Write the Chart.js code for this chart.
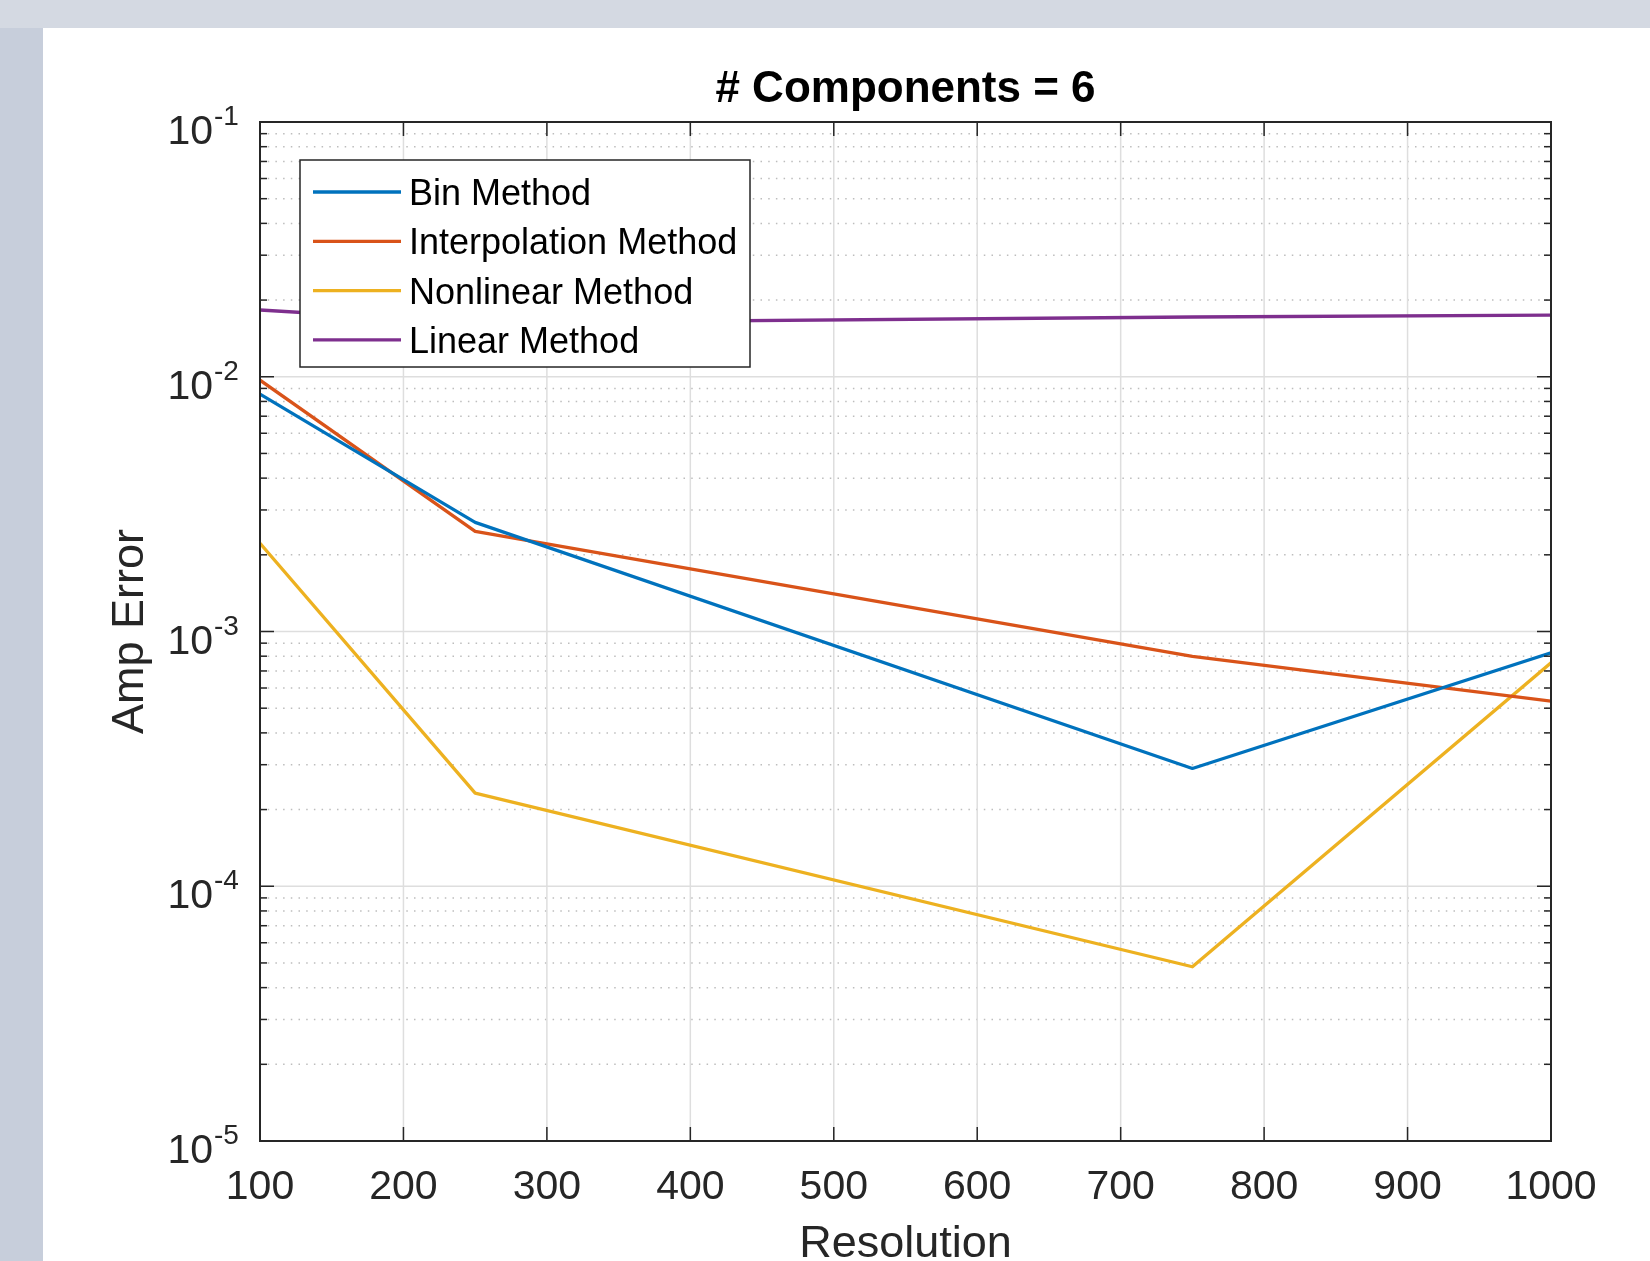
<!DOCTYPE html>
<html>
<head>
<meta charset="utf-8">
<script src="https://cdn.jsdelivr.net/npm/chart.js@4.4.1/dist/chart.umd.min.js"></script>
<style>
  html, body { margin: 0; padding: 0; }
  body { width: 1650px; height: 1261px; background: #d4d9e2; overflow: hidden; position: relative; }
  #strip { position: absolute; left: 0; top: 28px; width: 43px; height: 1233px; background: #c7cedb; }
  #panel { position: absolute; left: 43px; top: 28px; width: 1607px; height: 1233px; background: #fff; }
  canvas { display: block; }
</style>
</head>
<body>
<div id="strip"></div>
<div id="panel"><canvas id="chart" width="1607" height="1233"></canvas></div>
<script>
  // valeurs
  var resolution = [100, 250, 750, 1000];
  var binErr = [0.00855, 0.00268, 0.000290, 0.000825];
  var interpErr = [0.0097, 0.00247, 0.000798, 0.000533];
  var nonlinErr = [0.00222, 0.000232, 0.0000483, 0.000754];
  var linearErr = [0.01828, 0.01626, 0.01716, 0.01747];

  var seriesNames = ["Bin Method", "Interpolation Method", "Nonlinear Method", "Linear Method"];
  var seriesColors = ["#0072bd", "#d95319", "#edb120", "#7e2f8e"];
  var allSeries = [binErr, interpErr, nonlinErr, linearErr];

  var xTicks = [100, 200, 300, 400, 500, 600, 700, 800, 900, 1000];
  var yExponents = [-5, -4, -3, -2, -1];

  var FONT = "'Liberation Sans', Arial, sans-serif";
  var INK = "#262626";

  function line(ctx, x1, y1, x2, y2) {
    ctx.beginPath();
    ctx.moveTo(x1, y1);
    ctx.lineTo(x2, y2);
    ctx.stroke();
  }

  var matlabAxes = {
    id: "matlabAxes",
    beforeDatasetsDraw: function (chart) {
      var ctx = chart.ctx, a = chart.chartArea;
      var xs = chart.scales.x, ys = chart.scales.y;
      ctx.save();
      // grille mineure pointillée (y seulement)
      ctx.strokeStyle = "#bdbdbd";
      ctx.lineWidth = 1.5;
      ctx.setLineDash([1.5, 6.2]);
      yExponents.slice(0, -1).forEach(function (e) {
        for (var m = 2; m <= 9; m++) {
          var y = ys.getPixelForValue(m * Math.pow(10, e));
          line(ctx, a.left, y, a.right, y);
        }
      });
      // grille majeure
      ctx.setLineDash([]);
      ctx.strokeStyle = "#dedede";
      ctx.lineWidth = 1.5;
      xTicks.slice(1, -1).forEach(function (v) {
        var x = xs.getPixelForValue(v);
        line(ctx, x, a.top, x, a.bottom);
      });
      yExponents.slice(1, -1).forEach(function (e) {
        var y = ys.getPixelForValue(Math.pow(10, e));
        line(ctx, a.left, y, a.right, y);
      });
      ctx.restore();
    },
    afterDatasetsDraw: function (chart) {
      var ctx = chart.ctx, a = chart.chartArea;
      var xs = chart.scales.x, ys = chart.scales.y;
      ctx.save();
      ctx.strokeStyle = INK;
      ctx.fillStyle = INK;

      // graduations
      ctx.lineWidth = 1.5;
      xTicks.forEach(function (v) {
        var x = xs.getPixelForValue(v);
        line(ctx, x, a.bottom, x, a.bottom - 14);
        line(ctx, x, a.top, x, a.top + 14);
      });
      yExponents.forEach(function (e, i) {
        var y = ys.getPixelForValue(Math.pow(10, e));
        line(ctx, a.left, y, a.left + 14, y);
        line(ctx, a.right, y, a.right - 14, y);
        if (i < yExponents.length - 1) {
          for (var m = 2; m <= 9; m++) {
            var ym = ys.getPixelForValue(m * Math.pow(10, e));
            line(ctx, a.left, ym, a.left + 7, ym);
            line(ctx, a.right, ym, a.right - 7, ym);
          }
        }
      });

      // cadre
      ctx.lineWidth = 2;
      ctx.strokeRect(a.left, a.top, a.right - a.left, a.bottom - a.top);

      // étiquettes x
      ctx.font = "41px " + FONT;
      ctx.textAlign = "center";
      ctx.textBaseline = "alphabetic";
      xTicks.forEach(function (v) {
        ctx.fillText(String(v), xs.getPixelForValue(v), a.bottom + 58);
      });

      // étiquettes y : 10^n
      yExponents.forEach(function (e) {
        var y = ys.getPixelForValue(Math.pow(10, e));
        ctx.font = "28px " + FONT;
        ctx.textAlign = "left";
        ctx.fillText("-" + Math.abs(e), 171, y + 3);
        ctx.font = "41px " + FONT;
        ctx.textAlign = "right";
        ctx.fillText("10", 170, y + 22);
      });

      // titres des axes
      ctx.font = "45px " + FONT;
      ctx.textAlign = "center";
      ctx.fillText("Resolution", (a.left + a.right) / 2, a.bottom + 116);
      ctx.save();
      ctx.translate(100, (a.top + a.bottom) / 2);
      ctx.rotate(-Math.PI / 2);
      ctx.fillText("Amp Error", 0, 0);
      ctx.restore();

      // titre
      ctx.fillStyle = "#000";
      ctx.font = "bold 44px " + FONT;
      ctx.fillText("# Components = 6", (a.left + a.right) / 2, 74);

      // légende
      var lx = 257, ly = 132, lw = 450, lh = 207;
      ctx.fillStyle = "#fff";
      ctx.fillRect(lx, ly, lw, lh);
      ctx.strokeStyle = INK;
      ctx.lineWidth = 1.5;
      ctx.strokeRect(lx, ly, lw, lh);
      ctx.font = "36px " + FONT;
      ctx.textAlign = "left";
      seriesNames.forEach(function (name, i) {
        var ry = 164 + i * 49.3;
        ctx.strokeStyle = seriesColors[i];
        ctx.lineWidth = 3.3;
        line(ctx, 270, ry, 358, ry);
        ctx.fillStyle = "#000";
        ctx.fillText(name, 366, ry + 13);
      });
      ctx.restore();
    }
  };

  new Chart(document.getElementById("chart"), {
    type: "line",
    data: {
      datasets: seriesNames.map(function (name, i) {
        return {
          label: name,
          data: resolution.map(function (r, j) {
            return { x: r, y: allSeries[i][j] };
          }),
          borderColor: seriesColors[i],
          backgroundColor: seriesColors[i],
          borderWidth: 3.3,
          pointRadius: 0,
          tension: 0,
          fill: false,
          borderJoinStyle: "round",
        };
      }),
    },
    options: {
      responsive: false,
      animation: false,
      devicePixelRatio: 1,
      layout: { padding: { left: 0, top: 94, right: 99, bottom: 0 } },
      plugins: {
        legend: { display: false },
        title: { display: false },
        tooltip: { enabled: false },
      },
      scales: {
        x: {
          type: "linear",
          min: 100,
          max: 1000,
          ticks: { display: false },
          grid: { display: false },
          border: { display: false },
          afterBuildTicks: function (s) {
            s.ticks = xTicks.map(function (v) { return { value: v }; });
          },
          afterFit: function (s) { s.height = 120; },
        },
        y: {
          type: "logarithmic",
          min: 1e-5,
          max: 1e-1,
          ticks: { display: false },
          grid: { display: false },
          border: { display: false },
          afterFit: function (s) { s.width = 217; },
        },
      },
    },
    plugins: [matlabAxes],
  });
</script>
</body>
</html>
